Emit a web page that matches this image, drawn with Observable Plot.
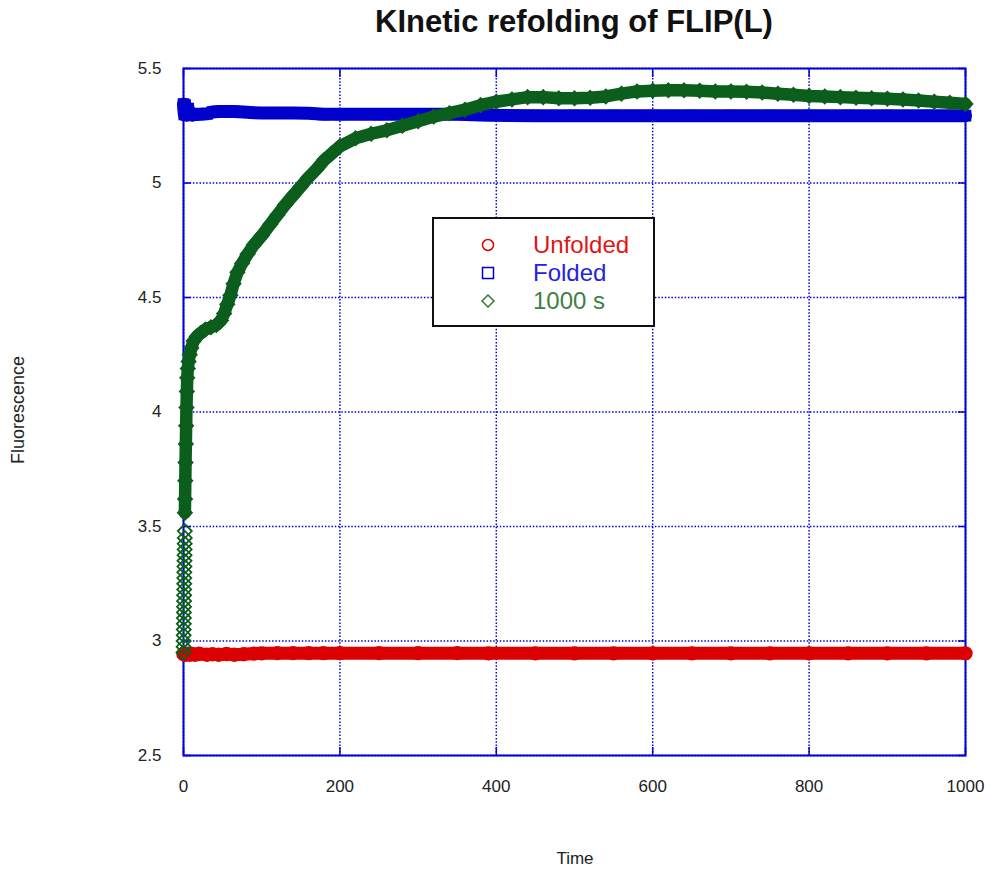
<!DOCTYPE html>
<html>
<head>
<meta charset="utf-8">
<script src="https://cdn.jsdelivr.net/npm/d3@7"></script>
<script src="https://cdn.jsdelivr.net/npm/@observablehq/plot@0.6"></script>
<style>
  body { margin: 0; background: #fff; }
  #wrap { position: relative; width: 990px; height: 873px; font-family: "Liberation Sans", Arial, Helvetica, sans-serif; }
  #chart svg { position: absolute; left: 0; top: 0; overflow: visible; }
  #title { position: absolute; left: 183px; width: 782px; top: 3px; text-align: center; font-weight: bold; font-size: 31px; line-height: 38px; color: #111; }
  .axlabel { position: absolute; font-size: 17px; color: #222; white-space: nowrap; }
  #xlabel { left: 575px; top: 849px; transform: translateX(-50%); }
  #ylabel { left: 18px; top: 410px; font-size: 18px; transform: translate(-50%, -50%) rotate(-90deg); }
  #legend { position: absolute; left: 432px; top: 217px; width: 219px; height: 106px; border: 2px solid #111; background: #fff; }
  .item { position: absolute; left: 0; width: 219px; height: 28px; font-size: 24px; line-height: 28px; white-space: nowrap; }
  .item svg { position: absolute; left: 47px; top: 7px; }
  .item span { position: absolute; left: 99px; top: 0; }
</style>
</head>
<body>
<div id="wrap">
  <div id="title">KInetic refolding of FLIP(L)</div>
  <div id="chart"></div>
  <div class="axlabel" id="xlabel">Time</div>
  <div class="axlabel" id="ylabel">Fluorescence</div>
  <div id="legend"></div>
</div>
<script>
// Sampling times shared by the unfolded and folded reference traces (s)
const refTimes = [0, 1, 2, 4, 6, 8, 11, 15, 20, 30, 37, 45, 55, 65, 77, 90, 100, 120, 140, 160, 179, 200, 250, 300, 350, 390, 450, 500, 550, 600, 650, 700, 750, 800, 850, 900, 950, 1000];
// Unfolded protein fluorescence
const unfolded = [2.942, 2.945, 2.94, 2.942, 2.945, 2.94, 2.943, 2.94, 2.944, 2.94, 2.942, 2.94, 2.943, 2.94, 2.942, 2.945, 2.946, 2.947, 2.947, 2.947, 2.947, 2.947, 2.947, 2.947, 2.947, 2.946, 2.946, 2.946, 2.946, 2.946, 2.946, 2.946, 2.946, 2.946, 2.946, 2.946, 2.946, 2.946];
// Folded protein fluorescence
const folded = [5.345, 5.30, 5.34, 5.296, 5.325, 5.30, 5.296, 5.30, 5.30, 5.302, 5.31, 5.312, 5.312, 5.312, 5.31, 5.307, 5.306, 5.306, 5.306, 5.305, 5.30, 5.30, 5.30, 5.30, 5.30, 5.296, 5.294, 5.294, 5.294, 5.294, 5.294, 5.294, 5.294, 5.294, 5.294, 5.294, 5.294, 5.294];
// Refolding trace, 1000 s run
const refoldTimes = [0, 0.08, 0.16, 0.24, 0.32, 0.4, 0.48, 0.56, 0.64, 0.72, 0.8, 0.88, 0.96, 1.04, 1.12, 1.2, 1.28, 1.36, 1.44, 1.52, 1.6, 1.68, 1.8, 2.0, 2.3, 2.6, 3.0, 3.4, 3.8, 4.3, 4.8, 5.5, 6.5, 8, 10, 13, 17, 22, 28, 35, 42, 48, 52, 56, 60, 64, 69, 75, 82, 90, 100, 111, 120, 130, 140, 150, 160, 170, 180, 190, 200, 220, 240, 260, 280, 300, 320, 340, 360, 380, 400, 420, 440, 460, 480, 500, 520, 540, 560, 580, 600, 620, 640, 660, 680, 700, 720, 740, 760, 780, 800, 820, 840, 860, 880, 900, 920, 940, 960, 980, 1000];
const refold = [2.95, 2.975, 3.0, 3.025, 3.05, 3.075, 3.10, 3.125, 3.15, 3.175, 3.20, 3.225, 3.25, 3.275, 3.30, 3.325, 3.35, 3.375, 3.40, 3.425, 3.45, 3.48, 3.56, 3.62, 3.70, 3.78, 3.86, 3.94, 4.02, 4.09, 4.15, 4.19, 4.22, 4.25, 4.28, 4.31, 4.33, 4.345, 4.36, 4.37, 4.38, 4.40, 4.43, 4.47, 4.51, 4.56, 4.61, 4.65, 4.69, 4.73, 4.77, 4.82, 4.86, 4.905, 4.945, 4.985, 5.025, 5.06, 5.10, 5.13, 5.16, 5.195, 5.215, 5.23, 5.25, 5.27, 5.29, 5.305, 5.32, 5.34, 5.355, 5.365, 5.375, 5.375, 5.37, 5.37, 5.372, 5.378, 5.39, 5.40, 5.403, 5.405, 5.405, 5.403, 5.40, 5.40, 5.398, 5.395, 5.39, 5.385, 5.38, 5.378, 5.375, 5.372, 5.37, 5.368, 5.365, 5.36, 5.355, 5.35, 5.345];

const xTicks = [0, 200, 400, 600, 800, 1000];
const yTicks = [2.5, 3, 3.5, 4, 4.5, 5, 5.5];
const seriesNames = ["Unfolded", "Folded", "1000 s"];

const RED = "#dd0000", BLUE = "#0000cc", GREEN = "#0b5e1b", FRAME = "#0000dd";

const redData = refTimes.map((t, i) => ({t, v: unfolded[i]}));
const blueData = refTimes.map((t, i) => ({t, v: folded[i]}));
const greenData = refoldTimes.map((t, i) => ({t, v: refold[i]}));

// Each trace is a thick band of overlapping open symbols
const band = (data, color, symbol, width, opts = {}) => [
  Plot.line(data, {x: "t", y: "v", stroke: color, strokeWidth: width, strokeLinejoin: "round", strokeLinecap: "round", clip: false, ...opts}),
  Plot.dot(data, {x: "t", y: "v", symbol, r: 6.3, stroke: color, strokeWidth: 1.8, fill: "none", clip: false})
];

// Short inward tick marks on all four sides of the frame
const tickAxis = (fn, anchor, ticks) => fn(ticks, {anchor, tickSize: -8, stroke: FRAME, strokeWidth: 1.5, fill: "none", label: null});

const chart = Plot.plot({
  width: 990,
  height: 873,
  marginLeft: 183,
  marginRight: 25,
  marginTop: 68,
  marginBottom: 118,
  x: {domain: [0, 1000]},
  y: {domain: [2.5, 5.5]},
  style: {fontFamily: "'Liberation Sans', Arial, sans-serif", fontSize: "17px", color: "#222", background: "transparent", overflow: "visible"},
  marks: [
    Plot.gridX(xTicks, {stroke: FRAME, strokeOpacity: 1, strokeWidth: 1.5, strokeDasharray: "1.5,1.8"}),
    Plot.gridY(yTicks, {stroke: FRAME, strokeOpacity: 1, strokeWidth: 1.5, strokeDasharray: "1.5,1.8"}),
    tickAxis(Plot.axisX, "bottom", xTicks),
    tickAxis(Plot.axisX, "top", xTicks),
    tickAxis(Plot.axisY, "left", yTicks),
    tickAxis(Plot.axisY, "right", yTicks),
    Plot.axisX(xTicks, {anchor: "bottom", tickSize: 0, tickPadding: 24, label: null, tickFormat: d => String(d)}),
    Plot.axisY(yTicks, {anchor: "left", tickSize: 0, tickPadding: 22, label: null, tickFormat: d => String(d)}),
    Plot.frame({stroke: FRAME, strokeWidth: 2}),
    ...band(redData, RED, "circle", 13),
    ...band(blueData, BLUE, "square2", 13),
    ...band(greenData, GREEN, "diamond2", 12.5, {filter: d => d.v >= 3.5})
  ]
});
document.getElementById("chart").append(chart);

// Legend box
const legendColors = [["#e01515", RED], ["#2323e0", BLUE], ["#3d8044", "#2e7a36"]];
const legendSymbols = [
  '<circle cx="7" cy="7" r="5.5" fill="none" stroke-width="1.5"/>',
  '<rect x="1.5" y="1.5" width="11" height="11" fill="none" stroke-width="1.5"/>',
  '<path d="M7,1 L13,7 L7,13 L1,7 Z" fill="none" stroke-width="1.5"/>'
];
const legend = document.getElementById("legend");
seriesNames.forEach((name, i) => {
  const item = document.createElement("div");
  item.className = "item";
  item.style.top = (12 + i * 28) + "px";
  item.innerHTML = `<svg width="14" height="14" stroke="${legendColors[i][1]}">${legendSymbols[i]}</svg><span style="color:${legendColors[i][0]}">${name}</span>`;
  legend.append(item);
});
</script>
</body>
</html>
